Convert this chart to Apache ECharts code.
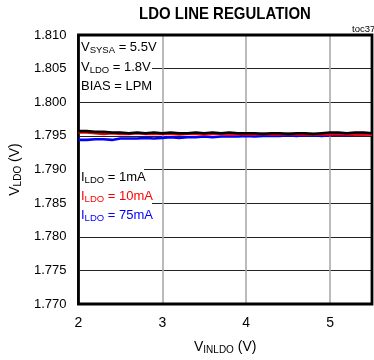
<!DOCTYPE html>
<html><head><meta charset="utf-8">
<script src="https://cdn.jsdelivr.net/npm/echarts@6/dist/echarts.min.js"></script>
<style>html,body{margin:0;padding:0;background:#fff}#c{width:374px;height:360px}</style>
</head><body><div id="c"></div>
<script>
const xValues = [2.0,2.1,2.2,2.3,2.4,2.5,2.6,2.7,2.8,2.9,3.0,3.1,3.2,3.3,3.4,3.5,3.6,3.7,3.8,3.9,4.0,4.1,4.2,4.3,4.4,4.5,4.6,4.7,4.8,4.9,5.0,5.1,5.2,5.3,5.4,5.5];
const i1mA  = [1.7957,1.7957,1.7956,1.7956,1.7955,1.7955,1.7954,1.7955,1.7954,1.7955,1.7954,1.7955,1.7954,1.7954,1.7955,1.7954,1.7955,1.7954,1.7955,1.7954,1.7954,1.7954,1.7953,1.7954,1.7954,1.7953,1.7954,1.7954,1.7953,1.7954,1.7955,1.7955,1.7954,1.7955,1.7955,1.7954];
const i10mA = [1.7955,1.7955,1.7954,1.7953,1.7954,1.7953,1.7953,1.7954,1.7953,1.7953,1.7953,1.7953,1.7952,1.7953,1.7953,1.7952,1.7953,1.7953,1.7952,1.7953,1.7952,1.7952,1.7953,1.7952,1.7952,1.7953,1.7952,1.7952,1.7952,1.7952,1.7952,1.7953,1.7952,1.7952,1.7952,1.7952];
const i75mA = [1.7944,1.7944,1.7945,1.7945,1.7944,1.7946,1.7946,1.7946,1.7947,1.7946,1.7947,1.7948,1.7947,1.7948,1.7948,1.7949,1.7948,1.7949,1.7949,1.7949,1.7950,1.7949,1.7950,1.7950,1.7950,1.7951,1.7950,1.7951,1.7951,1.7950,1.7951,1.7952,1.7951,1.7952,1.7952,1.7953];
const yTicks = [1.770,1.775,1.780,1.785,1.790,1.795,1.800,1.805,1.810];
const seriesNames = ['ILDO = 1mA','ILDO = 10mA','ILDO = 75mA'];
const legendValues = ['1mA','10mA','75mA'];
const colors = ['#000000','#ff0000','#0000ff'];
const FONT = 'Liberation Sans, Arial, sans-serif';

const chart = echarts.init(document.getElementById('c'));
const mk = arr => xValues.map((x,i)=>[x,arr[i]]);
const sub = (main, s, rest, color) => ({
  text:'{a|'+main+'}{b|'+s+'}{a|'+rest+'}',
  rich:{a:{fontSize:13,fontFamily:FONT,fill:color},b:{fontSize:9.5,fontFamily:FONT,fill:color,padding:[5,0,0,0]}}
});
chart.setOption({
  animation:false,
  grid:{left:76,top:35,width:296,height:269,show:true,borderColor:'#000',borderWidth:2.8,z:5},
  xAxis:{type:'value',min:2,max:5.5,interval:1,
    axisLine:{show:false},axisTick:{show:false},
    axisLabel:{color:'#000',fontSize:14,fontFamily:FONT,margin:12,showMaxLabel:false},
    splitLine:{show:true,lineStyle:{color:'#aaaaaa',width:1.6}},
    name:'{a|V}{b|INLDO}{a| (V)}',nameLocation:'middle',nameGap:35,
    nameTextStyle:{rich:{a:{fontSize:14,fontFamily:FONT,color:'#000'},b:{fontSize:10,fontFamily:FONT,color:'#000',padding:[6,0,0,0]}}}},
  yAxis:{type:'value',min:yTicks[0],max:yTicks[yTicks.length-1],interval:0.005,
    axisLine:{show:false},axisTick:{show:false},
    axisLabel:{color:'#000',fontSize:13,fontFamily:FONT,margin:12,formatter:v=>v.toFixed(3)},
    splitLine:{show:true,lineStyle:{color:'#222',width:1}},
    name:'{a|V}{b|LDO}{a| (V)}',nameLocation:'middle',nameGap:45,
    nameTextStyle:{rich:{a:{fontSize:14,fontFamily:FONT,color:'#000'},b:{fontSize:10,fontFamily:FONT,color:'#000',padding:[6,0,0,0]}}}},
  series:[i1mA,i10mA,i75mA].map((d,i)=>({name:seriesNames[i],type:'line',data:mk(d),showSymbol:false,
    lineStyle:{color:colors[i],width:2.6},z:10-i})),
  graphic:[
    {type:'text',x:225,y:14,scaleX:0.88,originX:0,originY:0,z:20,
      style:{text:'LDO LINE REGULATION',font:'bold 17px '+FONT,fill:'#000',textAlign:'center',textVerticalAlign:'middle'}},
    {type:'text',x:352,y:29,style:{text:'toc37',font:'9.5px '+FONT,fill:'#000',textVerticalAlign:'middle'}},
    {type:'rect',shape:{x:80,y:37,width:72,height:61},style:{fill:'#fff'},z:6},
    {type:'text',left:81,top:41,z:7,style:sub('V','SYSA',' = 5.5V','#000')},
    {type:'text',left:81,top:61,z:7,style:sub('V','LDO',' = 1.8V','#000')},
    {type:'text',left:81,top:80,z:7,style:{text:'BIAS = LPM',font:'13px '+FONT,fill:'#000'}},
    {type:'rect',shape:{x:80,y:165,width:64,height:22},style:{fill:'#fff'},z:6},
    {type:'rect',shape:{x:80,y:187,width:72,height:42},style:{fill:'#fff'},z:6},
    ...[0,1,2].map(i=>({type:'text',left:81,top:171+i*19,z:7,style:sub('I','LDO',' = '+legendValues[i],colors[i])}))
  ]
});
</script></body></html>
